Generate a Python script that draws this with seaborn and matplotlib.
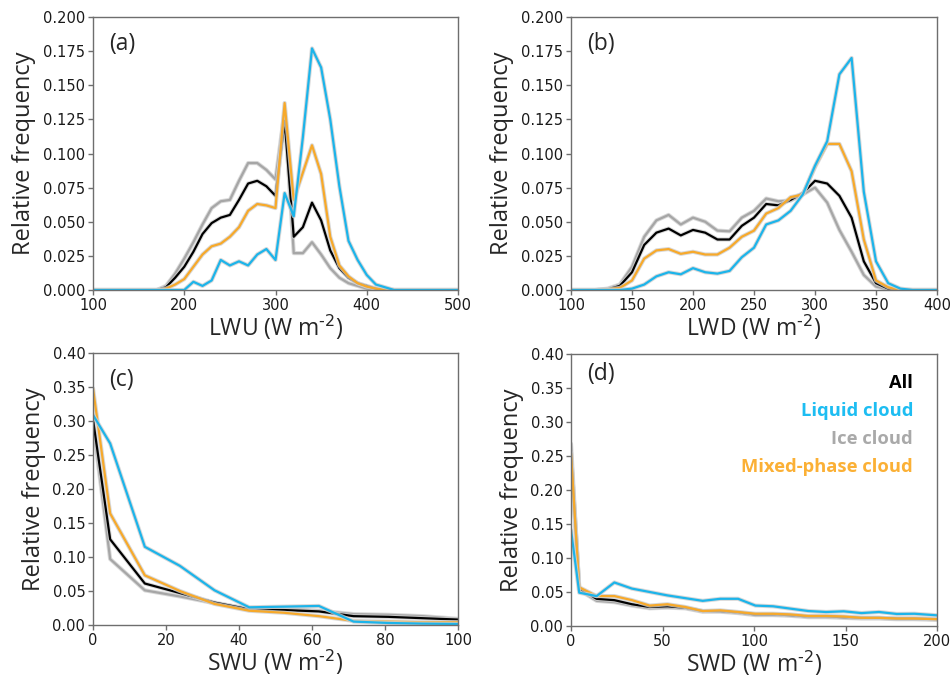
import matplotlib
matplotlib.use("Agg")
import matplotlib.pyplot as plt
import matplotlib.patheffects as pe
import seaborn as sns
import pandas as pd

# ---------------- data ----------------
lwu_x = [100, 110, 120, 130, 140, 150, 160, 170, 180, 190, 200, 210, 220, 230, 240,
         250, 260, 270, 280, 290, 300, 310, 320, 330, 340, 350, 360, 370, 380, 390,
         400, 410, 420, 430, 440, 450, 460, 470, 480, 490, 500]
lwu_all = [0, 0, 0, 0, 0, 0, 0, 0, 0.002, 0.009, 0.017, 0.028, 0.041, 0.049, 0.053,
           0.055, 0.066, 0.078, 0.080, 0.076, 0.069, 0.124, 0.039, 0.046, 0.064, 0.051,
           0.029, 0.016, 0.009, 0.005, 0.003, 0.001, 0, 0, 0, 0, 0, 0, 0, 0, 0]
lwu_liq = [0, 0, 0, 0, 0, 0, 0, 0, 0, 0, 0.0, 0.006, 0.003, 0.007, 0.022,
           0.018, 0.021, 0.018, 0.026, 0.030, 0.022, 0.071, 0.054, 0.112, 0.177, 0.163,
           0.125, 0.076, 0.036, 0.022, 0.011, 0.004, 0.002, 0, 0, 0, 0, 0, 0, 0, 0]
lwu_ice = [0, 0, 0, 0, 0, 0, 0, 0, 0.003, 0.012, 0.023, 0.035, 0.048, 0.060, 0.065,
           0.066, 0.080, 0.093, 0.093, 0.088, 0.081, 0.131, 0.027, 0.027, 0.035, 0.026,
           0.016, 0.009, 0.005, 0.003, 0.001, 0, 0, 0, 0, 0, 0, 0, 0, 0, 0]
lwu_mix = [0, 0, 0, 0, 0, 0, 0, 0, 0.001, 0.004, 0.008, 0.017, 0.026, 0.032, 0.034,
           0.039, 0.046, 0.058, 0.063, 0.062, 0.060, 0.137, 0.066, 0.086, 0.106, 0.085,
           0.039, 0.018, 0.010, 0.005, 0.0025, 0.001, 0, 0, 0, 0, 0, 0, 0, 0, 0]

lwd_x = [100, 110, 120, 130, 140, 150, 160, 170, 180, 190, 200, 210, 220, 230, 240,
         250, 260, 270, 280, 290, 300, 310, 320, 330, 340, 350, 360, 370, 380, 390, 400]
lwd_all = [0, 0, 0, 0.0005, 0.003, 0.013, 0.033, 0.042, 0.045, 0.040, 0.044, 0.042,
           0.037, 0.037, 0.047, 0.053, 0.063, 0.062, 0.066, 0.071, 0.080, 0.078, 0.069,
           0.053, 0.021, 0.005, 0.001, 0, 0, 0, 0]
lwd_liq = [0, 0, 0, 0, 0, 0.001, 0.004, 0.010, 0.013, 0.0115, 0.016, 0.013, 0.012,
           0.014, 0.024, 0.031, 0.048, 0.051, 0.058, 0.070, 0.091, 0.109, 0.158, 0.170,
           0.072, 0.021, 0.005, 0.001, 0, 0, 0]
lwd_ice = [0, 0, 0, 0.001, 0.004, 0.017, 0.039, 0.051, 0.055, 0.048, 0.053, 0.050,
           0.0435, 0.043, 0.053, 0.058, 0.067, 0.065, 0.0655, 0.070, 0.075, 0.064, 0.044,
           0.028, 0.011, 0.0025, 0.0005, 0, 0, 0, 0]
lwd_mix = [0, 0, 0, 0.0005, 0.0015, 0.007, 0.023, 0.029, 0.030, 0.0265, 0.028, 0.026,
           0.026, 0.031, 0.039, 0.0435, 0.056, 0.060, 0.068, 0.070, 0.090, 0.107, 0.107,
           0.087, 0.037, 0.007, 0.002, 0, 0, 0, 0]

swu_x = [0, 4.7, 14.2, 23.8, 33.3, 42.8, 52.3, 61.9, 71.4, 80.9, 90.4, 100]
swu_all = [0.302, 0.126, 0.061, 0.047, 0.033, 0.023, 0.022, 0.020, 0.013, 0.012, 0.010, 0.008]
swu_liq = [0.309, 0.267, 0.115, 0.087, 0.051, 0.026, 0.027, 0.028, 0.005, 0.003, 0.002, 0.0015]
swu_ice = [0.297, 0.097, 0.051, 0.042, 0.032, 0.024, 0.024, 0.021, 0.016, 0.015, 0.013, 0.009]
swu_mix = [0.348, 0.164, 0.073, 0.050, 0.031, 0.021, 0.018, 0.013, 0.006, 0.005, 0.004, 0.004]

swd_x = [0, 4.5, 14, 23.7, 33.3, 43, 52.7, 62.3, 72, 81.6, 91.3, 100.8, 110.4, 120,
         129.7, 139.4, 149, 158.7, 168.3, 178, 187.7, 200]
swd_all = [0.255, 0.055, 0.040, 0.038, 0.032, 0.028, 0.029, 0.027, 0.022, 0.022, 0.020,
           0.017, 0.017, 0.016, 0.014, 0.014, 0.013, 0.012, 0.012, 0.011, 0.011, 0.010]
swd_liq = [0.141, 0.049, 0.044, 0.064, 0.055, 0.050, 0.045, 0.041, 0.037, 0.040, 0.040,
           0.030, 0.029, 0.0255, 0.022, 0.0206, 0.0216, 0.019, 0.0206, 0.0177, 0.018, 0.0157]
swd_ice = [0.268, 0.053, 0.037, 0.035, 0.030, 0.026, 0.027, 0.026, 0.021, 0.021, 0.019,
           0.016, 0.016, 0.015, 0.013, 0.013, 0.012, 0.011, 0.011, 0.010, 0.010, 0.009]
swd_mix = [0.254, 0.057, 0.044, 0.044, 0.038, 0.030, 0.032, 0.028, 0.022, 0.023, 0.0206,
           0.018, 0.018, 0.017, 0.0147, 0.0147, 0.014, 0.012, 0.012, 0.011, 0.011, 0.010]

series_names = ["All", "Liquid cloud", "Ice cloud", "Mixed-phase cloud"]
line_colors = {"All": "#000000", "Liquid cloud": "#1CB4EA",
               "Ice cloud": "#A6A6A6", "Mixed-phase cloud": "#F7A92A"}
text_colors = {"All": "#000000", "Liquid cloud": "#1DBDF2",
               "Ice cloud": "#A9A9A9", "Mixed-phase cloud": "#FBB035"}
draw_order = ["Ice cloud", "All", "Mixed-phase cloud", "Liquid cloud"]

panels = [
    dict(tag="(a)", x=lwu_x, vals=[lwu_all, lwu_liq, lwu_ice, lwu_mix], xlabel="LWU",
         xlim=(100, 500), ylim=(0, 0.2), xticks=[100, 200, 300, 400, 500],
         yticks=[0, 0.025, 0.05, 0.075, 0.1, 0.125, 0.15, 0.175, 0.2], yfmt="{:.3f}",
         rect=[93 / 952, 389 / 679, 365 / 952, 273 / 679], tagpos=(0.045, 0.90)),
    dict(tag="(b)", x=lwd_x, vals=[lwd_all, lwd_liq, lwd_ice, lwd_mix], xlabel="LWD",
         xlim=(100, 400), ylim=(0, 0.2), xticks=[100, 150, 200, 250, 300, 350, 400],
         yticks=[0, 0.025, 0.05, 0.075, 0.1, 0.125, 0.15, 0.175, 0.2], yfmt="{:.3f}",
         rect=[571 / 952, 389 / 679, 366 / 952, 273 / 679], tagpos=(0.045, 0.90)),
    dict(tag="(c)", x=swu_x, vals=[swu_all, swu_liq, swu_ice, swu_mix], xlabel="SWU",
         xlim=(0, 100), ylim=(0, 0.4), xticks=[0, 20, 40, 60, 80, 100],
         yticks=[0, 0.05, 0.1, 0.15, 0.2, 0.25, 0.3, 0.35, 0.4], yfmt="{:.2f}",
         rect=[93 / 952, 54 / 679, 365 / 952, 272 / 679], tagpos=(0.045, 0.90)),
    dict(tag="(d)", x=swd_x, vals=[swd_all, swd_liq, swd_ice, swd_mix], xlabel="SWD",
         xlim=(0, 200), ylim=(0, 0.4), xticks=[0, 50, 100, 150, 200],
         yticks=[0, 0.05, 0.1, 0.15, 0.2, 0.25, 0.3, 0.35, 0.4], yfmt="{:.2f}",
         rect=[571 / 952, 53 / 679, 366 / 952, 272 / 679], tagpos=(0.045, 0.925)),
]

sns.set_style("ticks")
plt.rcParams["font.family"] = ["DejaVu Sans"]
plt.rcParams["mathtext.default"] = "regular"
label_font = "Open Sans"
spine_col = "#6e6e6e"

fig = plt.figure(figsize=(9.52, 6.79), dpi=100)

for p in panels:
    ax = fig.add_axes(p["rect"])
    frames = []
    for name, v in zip(series_names, p["vals"]):
        frames.append(pd.DataFrame({"x": p["x"], "y": v, "type": name}))
    df = pd.concat(frames, ignore_index=True)
    for name in draw_order:
        sub = df[df["type"] == name]
        sns.lineplot(data=sub, x="x", y="y", color=line_colors[name], lw=1.6,
                     ax=ax, errorbar=None, legend=False, sort=False)
    for ln in ax.get_lines():
        ln.set_path_effects([pe.Stroke(linewidth=3.0, foreground="#cfcfcf", alpha=0.8),
                             pe.Normal()])
    ax.set_xlim(*p["xlim"])
    ax.set_ylim(*p["ylim"])
    ax.set_xticks(p["xticks"])
    ax.set_yticks(p["yticks"])
    ax.set_yticklabels([p["yfmt"].format(t) for t in p["yticks"]])
    ax.tick_params(axis="both", labelsize=10.5, length=3.5, width=1,
                   color=spine_col, labelcolor="#1a1a1a", pad=2)
    for s in ax.spines.values():
        s.set_color(spine_col)
        s.set_linewidth(1.0)
    ax.set_xlabel(p["xlabel"] + r" (W m$^{\text{-2}}$)", fontsize=16.5,
                  family=label_font, labelpad=0)
    ax.set_ylabel("Relative frequency", fontsize=17, family=label_font, labelpad=5)
    ax.text(p["tagpos"][0], p["tagpos"][1], p["tag"], transform=ax.transAxes,
            fontsize=16.5, family=label_font, ha="left", va="center")
    if p["tag"] == "(d)":
        ys = [0.893, 0.79, 0.686, 0.583]
        for name, yy in zip(series_names, ys):
            ax.text(0.935, yy, name, transform=ax.transAxes, ha="right", va="center",
                    fontsize=13.2, fontweight="bold", family=label_font,
                    color=text_colors[name])

fig.savefig("out.png", dpi=100)
